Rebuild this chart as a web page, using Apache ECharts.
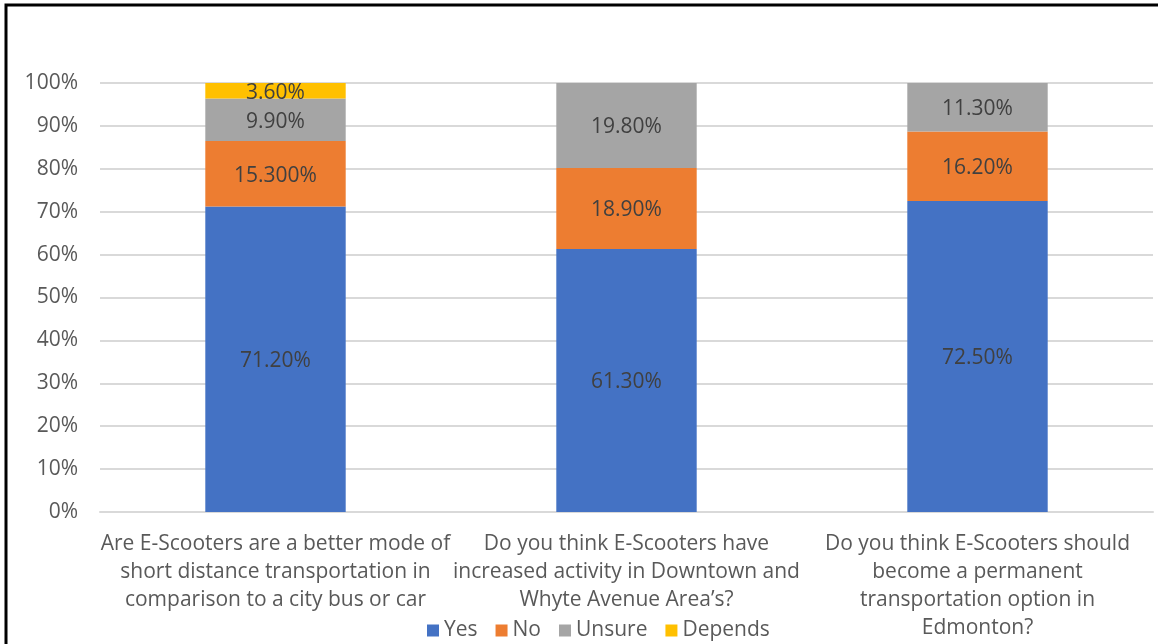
<!DOCTYPE html>
<html>
<head>
<meta charset="utf-8">
<script src="https://cdn.jsdelivr.net/npm/echarts@6/dist/echarts.min.js"></script>
<style>
  html, body { margin: 0; padding: 0; background: #ffffff; }
  #chart { width: 1158px; height: 644px; }
</style>
</head>
<body>
<div id="chart"></div>
<script>
// Survey questions (line breaks as they wrap under each bar)
const categories = [
  'Are E-Scooters are a better mode of\nshort distance transportation in\ncomparison to a city bus or car',
  'Do you think E-Scooters have\nincreased activity in Downtown and\nWhyte Avenue Area\u2019s?',
  'Do you think E-Scooters should\nbecome a permanent\ntransportation option in\nEdmonton?'
];

// Share of responses, in percent
const yesValues = [71.2, 61.3, 72.5];
const noValues = [15.3, 18.9, 16.2];
const unsureValues = [9.9, 19.8, 11.3];
const dependsValues = [3.6, null, null];

// Decimal places printed on each bar segment's label
const yesDigits = [2, 2, 2];
const noDigits = [3, 2, 2];
const unsureDigits = [2, 2, 2];
const dependsDigits = [2, 2, 2];

const yTicks = [0, 10, 20, 30, 40, 50, 60, 70, 80, 90, 100];

const FONT = '"Open Sans", "Liberation Sans", sans-serif';

function makeSeries(name, values, digits, color) {
  return {
    name: name,
    type: 'bar',
    stack: 'total',
    barWidth: '40%',
    itemStyle: { color: color },
    label: {
      show: true,
      position: 'inside',
      offset: [0, 2],
      color: '#404040',
      fontFamily: FONT,
      fontSize: 21,
      formatter: p => p.value == null ? '' : p.value.toFixed(digits[p.dataIndex]) + '%'
    },
    data: values
  };
}

const chart = echarts.init(document.getElementById('chart'));
chart.setOption({
  animation: false,
  backgroundColor: '#ffffff',
  grid: { left: 100, right: 5, top: 83, bottom: 132 },
  legend: {
    bottom: -2,
    left: 422,
    icon: 'rect',
    itemWidth: 12,
    itemHeight: 12,
    itemGap: 18,
    textStyle: { color: '#595959', fontFamily: FONT, fontSize: 21 },
    data: ['Yes', 'No', 'Unsure', 'Depends']
  },
  xAxis: {
    type: 'category',
    data: categories,
    axisLine: { lineStyle: { color: '#D9D9D9', width: 2 } },
    axisTick: { show: false },
    axisLabel: {
      color: '#595959',
      fontFamily: FONT,
      fontSize: 21,
      lineHeight: 28,
      margin: 18,
      interval: 0
    }
  },
  yAxis: {
    type: 'value',
    min: yTicks[0],
    max: yTicks[yTicks.length - 1],
    interval: yTicks[1] - yTicks[0],
    axisLine: { show: false },
    axisTick: { show: false },
    splitLine: { lineStyle: { color: '#D9D9D9', width: 2 } },
    axisLabel: {
      color: '#595959',
      fontFamily: FONT,
      fontSize: 21,
      margin: 22,
      formatter: v => v + '%'
    }
  },
  graphic: [{
    type: 'rect',
    shape: { x: 6, y: 5, width: 1300, height: 800 },
    style: { fill: 'none', stroke: '#000000', lineWidth: 3 },
    silent: true,
    z: 100
  }],
  series: [
    makeSeries('Yes', yesValues, yesDigits, '#4472C4'),
    makeSeries('No', noValues, noDigits, '#ED7D31'),
    makeSeries('Unsure', unsureValues, unsureDigits, '#A5A5A5'),
    makeSeries('Depends', dependsValues, dependsDigits, '#FFC000')
  ]
});
</script>
</body>
</html>
